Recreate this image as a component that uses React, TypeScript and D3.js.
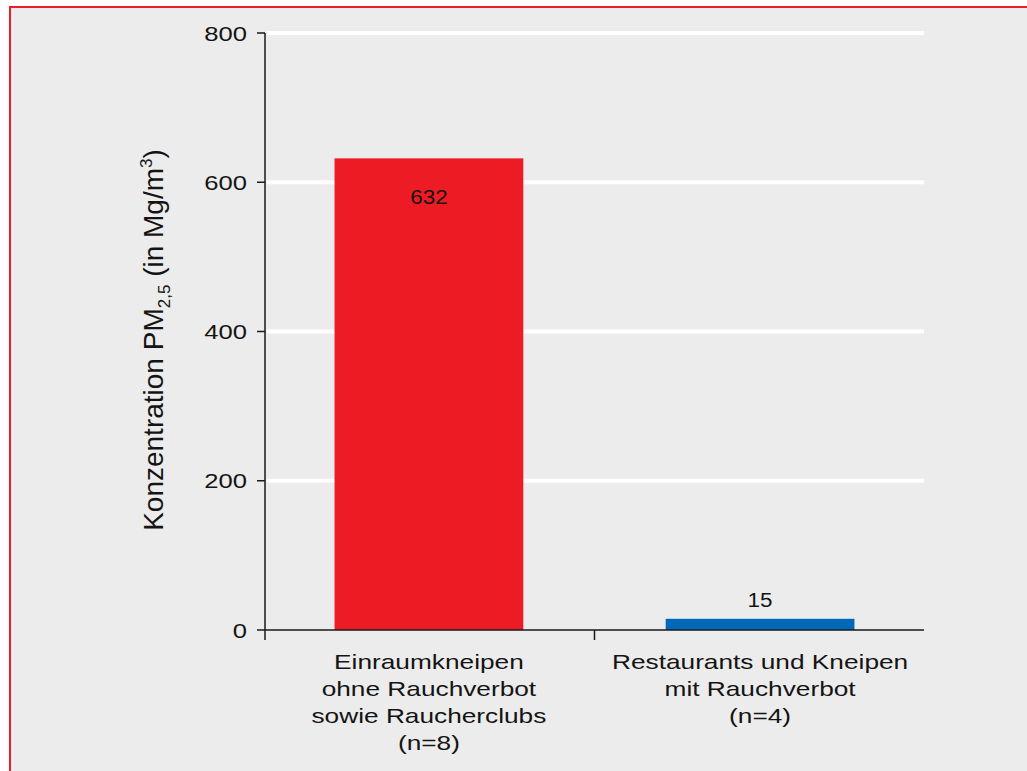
import React from "react";
import * as d3 from "d3";

const categories: string[][] = [
  ["Einraumkneipen", "ohne Rauchverbot", "sowie Raucherclubs", "(n=8)"],
  ["Restaurants und Kneipen", "mit Rauchverbot", "(n=4)"],
];
const categoryKeys = ["a", "b"];
const values = [632, 15];
const barColors = ["#ed1c24", "#0068b7"];
const yTicks = [0, 200, 400, 600, 800];
const gridTicks = [200, 400, 600, 800];

const W = 1027;
const H = 771;
const FONT = "'Liberation Sans', Arial, Helvetica, sans-serif";
const TXT = "#141414";
const SX = 1.22;

export default function App() {
  const x = d3
    .scaleBand<string>()
    .domain(categoryKeys)
    .range([265, 924])
    .paddingInner(0.43)
    .paddingOuter(0.21);
  const y = d3.scaleLinear().domain([0, 800]).range([630, 33]);
  const x0 = 265;
  const x1 = 924;
  const boundary = (x("b") as number) - (x.step() - x.bandwidth()) / 2;

  return (
    <svg
      width={W}
      height={H}
      style={{ position: "absolute", left: 0, top: 0, background: "#fff" }}
      fontFamily={FONT}
    >
      <rect x={10} y={7} width={W + 20} height={H + 20} fill="#ececec" stroke="#ec1c2c" strokeWidth={2} />
      {gridTicks.map((t) => (
        <line key={t} x1={x0 + 2} x2={x1} y1={y(t)} y2={y(t)} stroke="#ffffff" strokeWidth={4} />
      ))}
      {values.map((v, i) => {
        const bx = x(categoryKeys[i]) as number;
        return (
          <rect key={i} x={bx} y={y(v)} width={x.bandwidth()} height={y(0) - y(v)} fill={barColors[i]} />
        );
      })}
      {values.map((v, i) => {
        const cx = (x(categoryKeys[i]) as number) + x.bandwidth() / 2;
        const ty = v > 100 ? y(v) + 46 : y(v) - 12;
        return (
          <text
            key={i}
            transform={`translate(${cx},${ty}) scale(1.15,1)`}
            textAnchor="middle"
            fontSize={19.5}
            fill={TXT}
          >
            {v}
          </text>
        );
      })}
      {/* axes */}
      <line x1={x0} x2={x0} y1={y(800)} y2={640} stroke="#1a1a1a" strokeWidth={1.5} />
      <line x1={x0} x2={x1} y1={y(0)} y2={y(0)} stroke="#1a1a1a" strokeWidth={1.5} />
      <line x1={boundary} x2={boundary} y1={y(0)} y2={640} stroke="#1a1a1a" strokeWidth={1.5} />
      {yTicks.map((t) => (
        <g key={t}>
          <line x1={257} x2={x0} y1={y(t)} y2={y(t)} stroke="#1a1a1a" strokeWidth={1.5} />
          <text
            transform={`translate(247,${y(t) + 7.5}) scale(${SX},1)`}
            textAnchor="end"
            fontSize={21}
            fill={TXT}
          >
            {t}
          </text>
        </g>
      ))}
      {categories.map((lines, i) => {
        const cx = (x(categoryKeys[i]) as number) + x.bandwidth() / 2;
        return lines.map((ln, j) => (
          <text
            key={`${i}-${j}`}
            transform={`translate(${cx},${669 + j * 27}) scale(1.25,1)`}
            textAnchor="middle"
            fontSize={21}
            fill={TXT}
          >
            {ln}
          </text>
        ));
      })}
      <text
        transform={`translate(162.5,340) rotate(-90)`}
        textAnchor="middle"
        fontSize={28}
        fill={TXT}
      >
        Konzentration PM
        <tspan fontSize={17} dy={7}>2,5</tspan>
        <tspan dy={-7}> (in Mg/m</tspan>
        <tspan fontSize={17} dy={-11}>3</tspan>
        <tspan dy={11}>)</tspan>
      </text>
    </svg>
  );
}
